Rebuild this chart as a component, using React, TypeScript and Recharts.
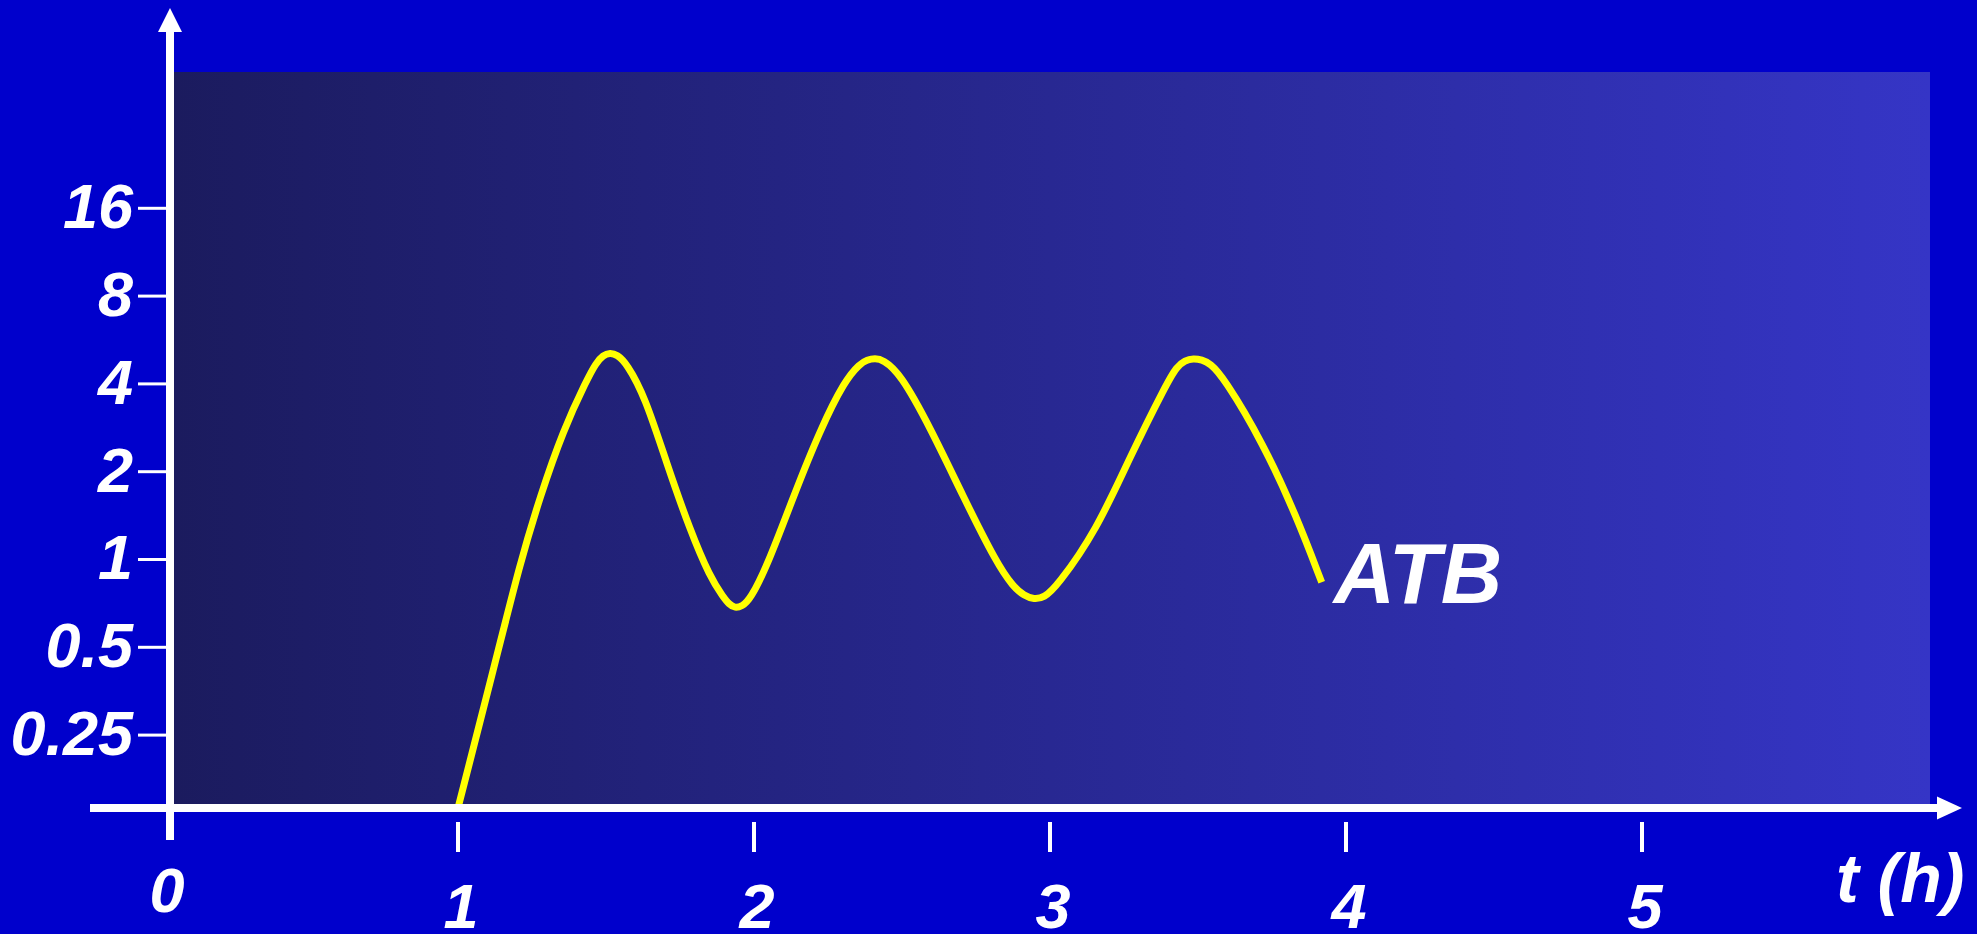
import React from 'react';
import { LineChart, Line, XAxis, YAxis, CartesianGrid } from 'recharts';

// ---- data ----
const timeHours = [
  1.001, 1.125, 1.2095, 1.277, 1.3557, 1.4348, 1.4662, 1.4899, 1.5135, 1.5372, 1.5699, 1.6318,
  1.705, 1.7838, 1.8514, 1.8963, 1.9155, 1.9358, 1.9595, 1.9865, 2.0483, 2.1328, 2.223, 2.3074,
  2.3581, 2.3818, 2.4088, 2.4358, 2.4932, 2.5946, 2.7071, 2.8199, 2.876, 2.9122, 2.9459, 2.9797,
  3.0226, 3.1578, 3.2703, 3.3943, 3.428, 3.4561, 3.4841, 3.5135, 3.5405, 3.5855, 3.7206, 3.8334,
  3.9179,
];
const atbLevels = [
  0.142, 0.44, 0.97, 1.641, 2.778, 4.123, 4.716, 5.015, 5.115, 5.039, 4.705, 3.614,
  2.136, 1.261, 0.87, 0.743, 0.703, 0.681, 0.692, 0.726, 0.97, 1.641, 2.778, 4.123,
  4.69, 4.837, 4.894, 4.837, 4.357, 2.845, 1.641, 0.97, 0.806, 0.752, 0.73, 0.74,
  0.806, 1.261, 2.25, 4.017, 4.58, 4.813, 4.894, 4.837, 4.705, 4.232, 2.501, 1.401,
  0.835,
];
const xTickValues = [1, 2, 3, 4, 5];
const yTickValues = [0.25, 0.5, 1, 2, 4, 8, 16];
const yTickLabels = ['0.25', '0.5', '1', '2', '4', '8', '16'];
const seriesName = 'ATB';
const xAxisTitle = 't (h)';
const originLabel = '0';
const xDomain = [0.027, 5.973];
const yDomain = [0.1406, 46.93];

const data = timeHours.map((t, i) => ({ t, v: atbLevels[i] }));

const FONT = '"Liberation Sans", Arial, sans-serif';
const WHITE = '#FFFFFF';
const textStyle = {
  fill: WHITE,
  fontFamily: FONT,
  fontWeight: 'bold' as const,
  fontStyle: 'italic' as const,
};

const YTick = (props: any) => {
  const { x, y, payload } = props;
  const idx = yTickValues.indexOf(payload.value);
  const label = idx >= 0 ? yTickLabels[idx] : String(payload.value);
  return (
    <text x={x - 5} y={y + 20} textAnchor="end" fontSize={63} {...textStyle}>
      {label}
    </text>
  );
};

const XTick = (props: any) => {
  const { x, y, payload } = props;
  return (
    <g>
      <line x1={x} x2={x} y1={y + 14} y2={y + 44} stroke={WHITE} strokeWidth={4} />
      <text x={x + 3} y={y + 120} textAnchor="middle" fontSize={63} {...textStyle}>
        {String(payload.value)}
      </text>
    </g>
  );
};

const YAxisDecor = (props: any) => {
  const vb = props.viewBox || {};
  const ax = vb.x + vb.width;
  const top = vb.y - 64;
  const bottom = vb.y + vb.height + 32;
  return (
    <g>
      <line x1={ax} x2={ax} y1={top + 20} y2={bottom} stroke={WHITE} strokeWidth={8} />
      <polygon points={`${ax},${top} ${ax - 12},${top + 24} ${ax + 12},${top + 24}`} fill={WHITE} />
    </g>
  );
};

const XAxisDecor = (props: any) => {
  const vb = props.viewBox || {};
  const ay = vb.y;
  const left = vb.x - 80;
  const tip = vb.x + vb.width + 32;
  return (
    <g>
      <line x1={left} x2={tip - 22} y1={ay} y2={ay} stroke={WHITE} strokeWidth={8} />
      <polygon points={`${tip},${ay} ${tip - 25},${ay - 11.5} ${tip - 25},${ay + 11.5}`} fill={WHITE} />
      <text x={vb.x - 3} y={ay + 104} textAnchor="middle" fontSize={63} {...textStyle}>
        {originLabel}
      </text>
      <text x={vb.x + vb.width - 94} y={ay + 94} textAnchor="start" fontSize={68} {...textStyle}>
        {xAxisTitle}
      </text>
    </g>
  );
};

const SeriesLabel = (props: any) => {
  const { x, y, index } = props;
  if (index !== timeHours.length - 1) return <g />;
  return (
    <text x={x + 12} y={y + 21} textAnchor="start" fontSize={85} {...textStyle}>
      {seriesName}
    </text>
  );
};

export default function App() {
  return (
    <div style={{ width: 1977, height: 934, background: '#0000CC', position: 'relative' }}>
      <style>{'body{margin:0;background:#0000CC;}'}</style>
      <LineChart
        width={1977}
        height={934}
        data={data}
        margin={{ top: 72, right: 47, bottom: 0, left: 0 }}
      >
        <defs>
          <linearGradient id="plotBg" x1="0" y1="0" x2="1" y2="0">
            <stop offset="0%" stopColor="#1B1B5E" />
            <stop offset="100%" stopColor="#3535C6" />
          </linearGradient>
        </defs>
        <CartesianGrid fill="url(#plotBg)" stroke="none" horizontal={false} vertical={false} />
        <XAxis
          dataKey="t"
          type="number"
          domain={xDomain}
          allowDataOverflow
          ticks={xTickValues}
          interval={0}
          height={126}
          axisLine={false}
          tickLine={false}
          tickSize={0}
          tickMargin={0}
          tick={<XTick />}
          label={<XAxisDecor />}
        />
        <YAxis
          type="number"
          scale="log"
          domain={yDomain}
          allowDataOverflow
          ticks={yTickValues}
          interval={0}
          width={170}
          axisLine={false}
          tickLine={{ stroke: WHITE, strokeWidth: 3 }}
          tickSize={32}
          tickMargin={0}
          tick={<YTick />}
          label={<YAxisDecor />}
        />
        <Line
          dataKey="v"
          type="basis"
          stroke="#FFFF00"
          strokeWidth={7}
          dot={false}
          activeDot={false}
          isAnimationActive={false}
          label={<SeriesLabel />}
        />
      </LineChart>
    </div>
  );
}
